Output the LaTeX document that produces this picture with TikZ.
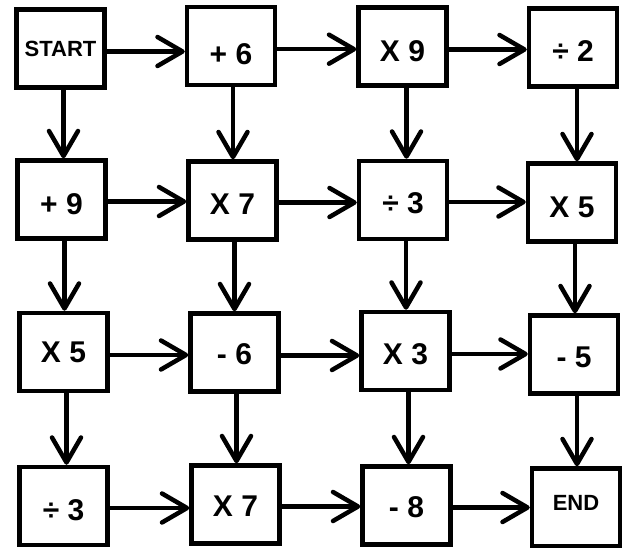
\documentclass[tikz,border=0pt]{standalone}
\usepackage{fontspec}
\setmainfont{Liberation Sans}
\usetikzlibrary{arrows.meta}
\tikzset{
  box/.style={draw,line width=4.5pt,minimum width=88pt,minimum height=78pt,inner sep=0pt,
    font=\bfseries\fontsize{30}{30}\selectfont,text height=27.5pt,text depth=0pt},
  word/.style={font=\bfseries\fontsize{22}{22}\selectfont,text height=15.75pt},
  link/.style={line width=4.5pt,-{Straight Barb[length=25pt,width=29pt,round]}}
}
\begin{document}
\begin{tikzpicture}[x=1pt,y=-1pt]
            \useasboundingbox (0,0) rectangle (624,548);
            % row 1
            \node[box,word] (start) at (60.5,48.5) {START};
            \node[box,text height=37.5pt] (plus6) at (231,46.2) {+ 6};
            \node[box,text height=29.5pt] (times9) at (402.5,46.5) {X 9};
            \node[box] (div2) at (573,47.5) {÷ 2};
            % row 2
            \node[box,text height=29.5pt] (plus9) at (61.5,199.5) {+ 9};
            \node[box] (times7a) at (232.5,200.5) {X 7};
            \node[box] (div3a) at (403,200) {÷ 3};
            \node[box,text height=29.5pt] (times5a) at (572,202.5) {X 5};
            % row 3
            \node[box,text height=21.5pt] (times5b) at (63.5,352) {X 5};
            \node[box,text height=23.5pt] (minus6) at (234.5,352.5) {- 6};
            \node[box] (times3) at (405.5,351) {X 3};
            \node[box,text height=26.5pt] (minus5) at (574,354.5) {- 5};
            % row 4
            \node[box,text height=29.5pt] (div3b) at (63.5,506) {÷ 3};
            \node[box,text height=23.5pt] (times7b) at (235.5,504.5) {X 7};
            \node[box,text height=24.5pt] (minus8) at (406.5,505.5) {- 8};
            \node[box,word,text depth=9pt] (end) at (576,507.5) {END};
            % across, a little below the middle
            \draw[link] ([yshift=-3pt]start.east) -- ([yshift=-3pt]start.east -| plus6.west);
            \draw[link] ([yshift=-3pt]plus6.east) -- ([yshift=-3pt]plus6.east -| times9.west);
            \draw[link] ([yshift=-3pt]times9.east) -- ([yshift=-3pt]times9.east -| div2.west);
            \draw[link] ([yshift=-2pt]plus9.east) -- ([yshift=-2pt]plus9.east -| times7a.west);
            \draw[link] ([yshift=-2pt]times7a.east) -- ([yshift=-2pt]times7a.east -| div3a.west);
            \draw[link] ([yshift=-2pt]div3a.east) -- ([yshift=-2pt]div3a.east -| times5a.west);
            \draw[link] ([yshift=-3pt]times5b.east) -- ([yshift=-3pt]times5b.east -| minus6.west);
            \draw[link] ([yshift=-3pt]minus6.east) -- ([yshift=-3pt]minus6.east -| times3.west);
            \draw[link] ([yshift=-3pt]times3.east) -- ([yshift=-3pt]times3.east -| minus5.west);
            \draw[link] ([yshift=-2pt]div3b.east) -- ([yshift=-2pt]div3b.east -| times7b.west);
            \draw[link] ([yshift=-2pt]times7b.east) -- ([yshift=-2pt]times7b.east -| minus8.west);
            \draw[link] ([yshift=-2pt]minus8.east) -- ([yshift=-2pt]minus8.east -| end.west);
            % down, a little right of the middle
            \draw[link] ([xshift=3pt]start.south) -- ([xshift=3pt]start.south |- plus9.north);
            \draw[link] ([xshift=3pt]plus9.south) -- ([xshift=3pt]plus9.south |- times5b.north);
            \draw[link] ([xshift=3pt]times5b.south) -- ([xshift=3pt]times5b.south |- div3b.north);
            \draw[link] ([xshift=2pt]plus6.south) -- ([xshift=2pt]plus6.south |- times7a.north);
            \draw[link] ([xshift=2pt]times7a.south) -- ([xshift=2pt]times7a.south |- minus6.north);
            \draw[link] ([xshift=2pt]minus6.south) -- ([xshift=2pt]minus6.south |- times7b.north);
            \draw[link] ([xshift=4pt]times9.south) -- ([xshift=4pt]times9.south |- div3a.north);
            \draw[link] ([xshift=3pt]div3a.south) -- ([xshift=3pt]div3a.south |- times3.north);
            \draw[link] ([xshift=3pt]times3.south) -- ([xshift=3pt]times3.south |- minus8.north);
            \draw[link] ([xshift=4pt]div2.south) -- ([xshift=4pt]div2.south |- times5a.north);
            \draw[link] ([xshift=3pt]times5a.south) -- ([xshift=3pt]times5a.south |- minus5.north);
            \draw[link] ([xshift=3pt]minus5.south) -- ([xshift=3pt]minus5.south |- end.north);
\end{tikzpicture}
\end{document}
